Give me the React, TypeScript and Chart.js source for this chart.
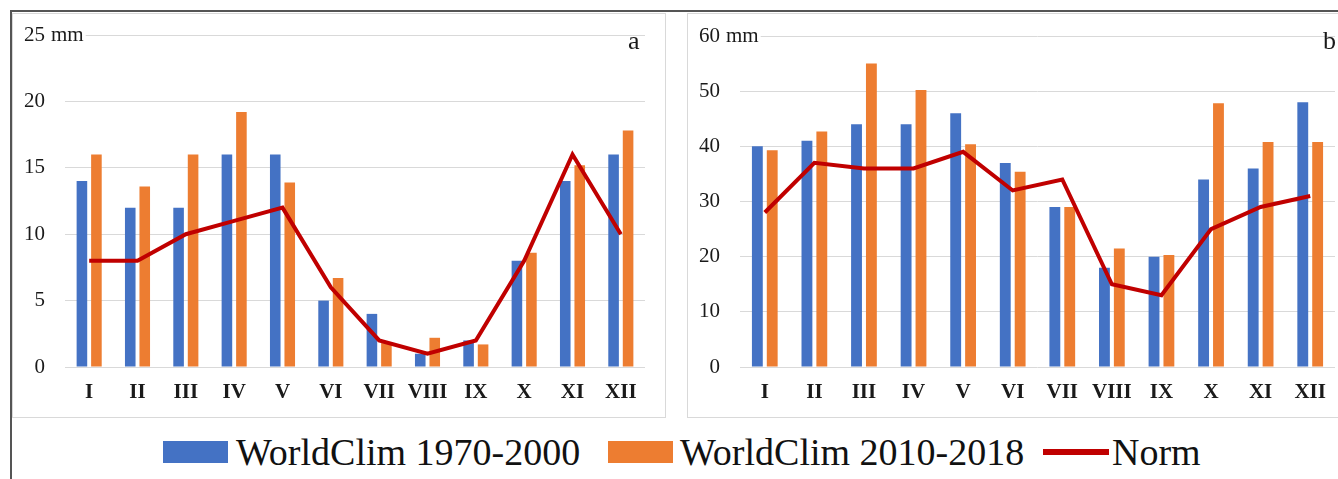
import React, { useEffect, useRef } from "react";
import { Chart, registerables } from "chart.js";

Chart.register(...registerables);

// ---------- data ----------
const months = ["I", "II", "III", "IV", "V", "VI", "VII", "VIII", "IX", "X", "XI", "XII"];

const seriesNames = ["WorldClim 1970-2000", "WorldClim 2010-2018", "Norm"];

// panel a
const aWorldClim1970 = [14, 12, 12, 16, 16, 5, 4, 1, 2, 8, 14, 16];
const aWorldClim2010 = [16, 13.6, 16, 19.2, 13.9, 6.7, 1.8, 2.2, 1.7, 8.6, 15.2, 17.8];
const aNorm = [8, 8, 10, 11, 12, 6, 2, 1, 2, 8, 16, 10];
const aMax = 25;
const aStep = 5;

// panel b
const bWorldClim1970 = [40, 41, 44, 44, 46, 37, 29, 18, 20, 34, 36, 48];
const bWorldClim2010 = [39.3, 42.7, 55, 50.2, 40.4, 35.4, 29, 21.5, 20.3, 47.8, 40.8, 40.8];
const bNorm = [28, 37, 36, 36, 39, 32, 34, 15, 13, 25, 29, 31];
const bMax = 60;
const bStep = 10;

const unitText = "mm";

// ---------- styles ----------
const BLUE = "#4472C4";
const ORANGE = "#ED7D31";
const RED = "#C00000";
const GRID = "#d9d9d9";
const SERIF = "'Liberation Serif', 'Times New Roman', serif";

type PanelProps = {
  w: number;
  h: number;
  v1: number[];
  v2: number[];
  norm: number[];
  max: number;
  step: number;
  letter: string;
  letterX: number;
  rightPad: number;
  topPad: number;
};

function Panel(p: PanelProps) {
  const ref = useRef<HTMLCanvasElement | null>(null);
  useEffect(() => {
    if (!ref.current) return;
    const annot = {
      id: "annot",
      afterDraw(chart: any) {
        const ctx = chart.ctx;
        const y = chart.scales.y;
        const py = y.getPixelForValue(p.max);
        ctx.save();
        ctx.font = `21px ${SERIF}`;
        ctx.textBaseline = "middle";
        ctx.textAlign = "left";
        const x0 = chart.chartArea.left - 14;
        const tw = ctx.measureText(unitText).width;
        ctx.fillStyle = "#fff";
        ctx.fillRect(chart.chartArea.left - 1, py - 2, x0 + tw + 2 - chart.chartArea.left + 1, 4);
        ctx.fillStyle = "#1a1a1a";
        ctx.fillText(unitText, x0, py);
        ctx.font = `26px ${SERIF}`;
        ctx.textBaseline = "alphabetic";
        ctx.fillText(p.letter, p.letterX, 35);
        ctx.restore();
      },
    };
    const chart = new Chart(ref.current, {
      type: "bar",
      data: {
        labels: months,
        datasets: [
          {
            type: "line",
            label: seriesNames[2],
            data: p.norm,
            borderColor: RED,
            backgroundColor: RED,
            borderWidth: 4,
            pointRadius: 0,
            tension: 0,
            order: 0,
          } as any,
          {
            type: "bar",
            label: seriesNames[0],
            data: p.v1,
            backgroundColor: BLUE,
            categoryPercentage: 0.6,
            barPercentage: 0.73,
            order: 1,
          },
          {
            type: "bar",
            label: seriesNames[1],
            data: p.v2,
            backgroundColor: ORANGE,
            categoryPercentage: 0.6,
            barPercentage: 0.73,
            order: 2,
          },
        ],
      },
      options: {
        responsive: false,
        animation: false,
        devicePixelRatio: 1,
        layout: { padding: { top: p.topPad, right: p.rightPad, bottom: 0, left: 0 } },
        plugins: { legend: { display: false }, tooltip: { enabled: false } },
        scales: {
          x: {
            grid: { display: false, drawTicks: false },
            border: { display: false },
            ticks: {
              color: "#1a1a1a",
              font: { family: SERIF, size: 21, weight: "bold" },
              padding: 13,
              maxRotation: 0,
              autoSkip: false,
            },
            afterFit: (s: any) => {
              s.height = 49;
              s.paddingLeft = 0;
              s.paddingRight = 0;
            },
          },
          y: {
            min: 0,
            max: p.max,
            grid: { color: GRID, lineWidth: 1, drawTicks: false },
            border: { display: false },
            ticks: {
              stepSize: p.step,
              color: "#1a1a1a",
              font: { family: SERIF, size: 21 },
              padding: 20,
            },
            afterFit: (s: any) => {
              s.width = 52;
              s.paddingTop = 0;
              s.paddingBottom = 0;
            },
          },
        },
      },
      plugins: [annot],
    });
    return () => chart.destroy();
  }, []);
  return <canvas ref={ref} width={p.w} height={p.h} style={{ position: "absolute", left: 0, top: 0 }} />;
}

export default function App() {
  const legendText: React.CSSProperties = {
    position: "absolute",
    top: 433,
    fontFamily: SERIF,
    fontSize: 38,
    lineHeight: "38px",
    color: "#111",
    whiteSpace: "nowrap",
  };
  return (
    <div
      style={{
        position: "fixed",
        left: 0,
        top: 0,
        width: 1338,
        height: 479,
        background: "#fff",
        overflow: "hidden",
      }}
    >
      <div
        style={{
          position: "absolute",
          left: 10,
          top: 10,
          width: 1400,
          height: 520,
          borderLeft: "2px solid #555",
          borderTop: "2px solid #555",
        }}
      />
      <div
        style={{
          position: "absolute",
          left: 12,
          top: 13,
          width: 652,
          height: 403,
          border: `1px solid ${GRID}`,
        }}
      >
        <Panel
          w={652}
          h={402}
          v1={aWorldClim1970}
          v2={aWorldClim2010}
          norm={aNorm}
          max={aMax}
          step={aStep}
          letter="a"
          letterX={615}
          rightPad={20}
          topPad={21}
        />
      </div>
      <div
        style={{
          position: "absolute",
          left: 687,
          top: 13,
          width: 660,
          height: 403,
          border: `1px solid ${GRID}`,
        }}
      >
        <Panel
          w={650}
          h={402}
          v1={bWorldClim1970}
          v2={bWorldClim2010}
          norm={bNorm}
          max={bMax}
          step={bStep}
          letter="b"
          letterX={635}
          rightPad={3}
          topPad={22}
        />
      </div>
      <div style={{ position: "absolute", left: 163, top: 441, width: 65, height: 22, background: BLUE }} />
      <div style={{ ...legendText, left: 236 }}>{seriesNames[0]}</div>
      <div style={{ position: "absolute", left: 608, top: 441, width: 65, height: 22, background: ORANGE }} />
      <div style={{ ...legendText, left: 680 }}>{seriesNames[1]}</div>
      <div style={{ position: "absolute", left: 1043, top: 449, width: 66, height: 6, background: RED }} />
      <div style={{ ...legendText, left: 1112 }}>{seriesNames[2]}</div>
    </div>
  );
}
